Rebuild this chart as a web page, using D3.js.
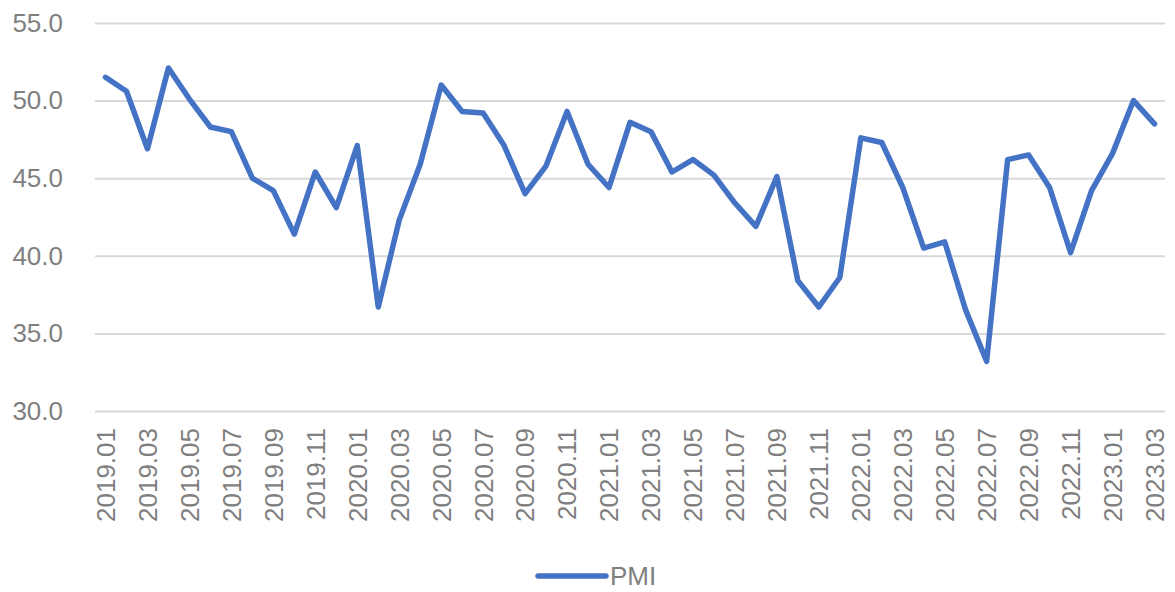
<!DOCTYPE html>
<html>
<head>
<meta charset="utf-8">
<script src="https://cdn.jsdelivr.net/npm/d3@7/dist/d3.min.js"></script>
<style>
    body { margin: 0; background: #fff; }
    text { font-family: "Liberation Sans", Arial, sans-serif; }
</style>
</head>
<body>
<div id="chart"></div>
<script>
// month categories
let months = [
    "2019.01", "2019.02", "2019.03", "2019.04", "2019.05", "2019.06", "2019.07", "2019.08", "2019.09", "2019.10", "2019.11", "2019.12",
    "2020.01", "2020.02", "2020.03", "2020.04", "2020.05", "2020.06", "2020.07", "2020.08", "2020.09", "2020.10", "2020.11", "2020.12",
    "2021.01", "2021.02", "2021.03", "2021.04", "2021.05", "2021.06", "2021.07", "2021.08", "2021.09", "2021.10", "2021.11", "2021.12",
    "2022.01", "2022.02", "2022.03", "2022.04", "2022.05", "2022.06", "2022.07", "2022.08", "2022.09", "2022.10", "2022.11", "2022.12",
    "2023.01", "2023.02", "2023.03"
];

// PMI values
let pmi = [
    51.5, 50.6, 46.9, 52.1, 50.1, 48.3, 48.0, 45.0, 44.2, 41.4, 45.4, 43.1,
    47.1, 36.7, 42.3, 45.9, 51.0, 49.3, 49.2, 47.1, 44.0, 45.8, 49.3, 45.9,
    44.4, 48.6, 48.0, 45.4, 46.2, 45.2, 43.4, 41.9, 45.1, 38.4, 36.7, 38.6,
    47.6, 47.3, 44.4, 40.5, 40.9, 36.5, 33.2, 46.2, 46.5, 44.4, 40.2, 44.2,
    46.6, 50.0, 48.5
];

let yTicks = [30, 35, 40, 45, 50, 55];
let seriesName = "PMI";

let width = 1175;
let height = 592;
let margin = { top: 23, right: 10, bottom: 181, left: 95 };
let innerW = width - margin.left - margin.right;
let innerH = height - margin.top - margin.bottom;

let lineColor = "#4472c4";
let textColor = "#7f7f7f";

let svg = d3.select("#chart").append("svg")
    .attr("width", width)
    .attr("height", height);

let g = svg.append("g")
    .attr("transform", "translate(" + margin.left + "," + margin.top + ")");

let x = d3.scaleBand()
    .domain(months)
    .range([0, innerW])
    .padding(0);
let y = d3.scaleLinear()
    .domain([30, 55])
    .range([innerH, 0]);

// gridlines
g.append("g")
    .call(d3.axisLeft(y).tickValues(yTicks).tickSize(-innerW).tickFormat(""))
    .call(s => s.select(".domain").remove())
    .call(s => s.selectAll("line").attr("stroke", "#d9d9d9").attr("stroke-width", 2));

// y axis labels
g.append("g")
    .call(d3.axisLeft(y).tickValues(yTicks).tickSize(0).tickPadding(32).tickFormat(d3.format(".1f")))
    .call(s => s.select(".domain").remove())
    .call(s => s.selectAll("text")
        .attr("fill", textColor)
        .style("font-size", "26px"));

// x axis labels, every second month
g.append("g")
    .attr("transform", "translate(0," + innerH + ")")
    .call(d3.axisBottom(x).tickValues(months.filter((d, i) => i % 2 === 0)).tickSize(0))
    .call(s => s.select(".domain").remove())
    .call(s => s.selectAll("text")
        .attr("fill", textColor)
        .style("font-size", "26px")
        .attr("text-anchor", "end")
        .attr("transform", "rotate(-90)")
        .attr("x", -17)
        .attr("y", 0)
        .attr("dy", "0.36em"));

// the line
let line = d3.line()
    .x((d, i) => x(months[i]) + x.bandwidth() / 2)
    .y(d => y(d));

g.append("path")
    .datum(pmi)
    .attr("fill", "none")
    .attr("stroke", lineColor)
    .attr("stroke-width", 5.5)
    .attr("stroke-linejoin", "round")
    .attr("stroke-linecap", "round")
    .attr("d", line);

// legend
let legend = svg.append("g")
    .attr("transform", "translate(538,576)");
legend.append("line")
    .attr("x1", 0).attr("x2", 68)
    .attr("stroke", lineColor)
    .attr("stroke-width", 5.5)
    .attr("stroke-linecap", "round");
legend.append("text")
    .attr("x", 72)
    .attr("dy", "0.36em")
    .attr("fill", textColor)
    .style("font-size", "26px")
    .text(seriesName);
</script>
</body>
</html>
